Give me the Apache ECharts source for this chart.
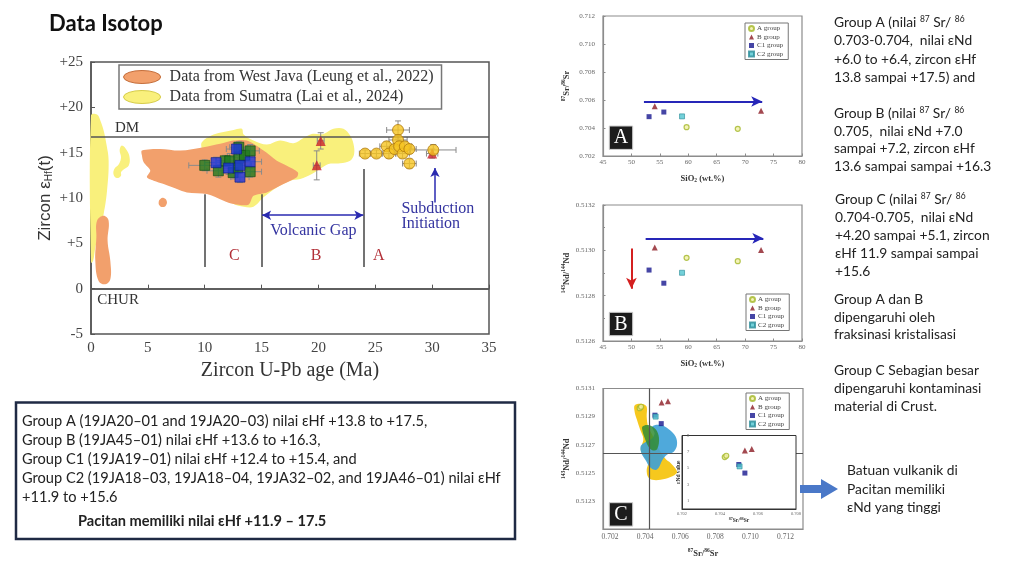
<!DOCTYPE html>
<html><head><meta charset="utf-8">
<script src="https://cdn.jsdelivr.net/npm/echarts@6/dist/echarts.min.js"></script>
<style>html,body{margin:0;padding:0;background:#fff}#c{width:1022px;height:569px}</style>
</head><body><div id="c"></div>
<script>
// ================= DATA =================
// Main chart: Zircon U-Pb age (Ma) vs Zircon eHf(t)
const mainXRange = [0, 35];
const mainYRange = [-5, 25];
const dmValue = 16.8;
const churValue = 0;
// [age, eHf, ageErr, eHfErr]
const zirconGroupA = [[24.1,14.9,0.5,0.4],[25.1,14.9,0.5,0.4],[26.0,15.7,0.6,0.5],[26.2,14.9,0.6,0.5],[27.0,17.5,1.0,1.0],[27.0,16.4,0.8,0.6],[26.7,15.4,0.6,0.5],[27.1,15.7,0.8,0.6],[27.4,14.9,0.6,0.5],[27.6,15.7,0.6,0.5],[28.0,15.4,0.6,0.5],[28.0,13.8,0.6,0.5],[30.1,15.3,2.0,0.6]];
const zirconGroupB = [[20.2,16.3,0.3,0.9],[19.85,13.6,0.3,1.6],[30.0,14.9,0.5,0.5]];
const zirconGroupC2 = [[10.0,13.6,1.4,0.6],[11.2,13.0,1.0,0.7],[11.8,14.1,0.8,0.6],[12.2,14.1,1.2,0.8],[12.5,12.8,1.0,0.7],[13.0,15.6,0.8,0.6],[13.0,14.5,1.0,0.8],[13.5,14.7,0.9,0.7],[14.0,15.2,0.8,0.7],[14.0,12.9,1.0,0.6],[12.9,13.3,0.8,0.6]];
const zirconGroupC1 = [[11.0,13.9,1.0,0.6],[12.1,13.3,0.9,0.7],[12.8,15.4,0.9,0.7],[13.1,13.6,1.0,0.8],[13.1,12.3,0.8,0.6],[14.0,14.0,1.0,0.7]];
// outlines of literature fields [age, eHf]
const sumatraStrip = [[0,19.1],[0.53,19.2],[0.82,18.55],[1.11,17.44],[1.35,15.97],[1.55,14.12],[1.41,10.8],[1.11,8.22],[0.82,6.75],[0.38,4.54],[0.18,3.06],[0,2.88]];
const sumatraHook = [[2.72,15.78],[3.16,15.23],[3.4,14.42],[3.31,13.57],[2.93,13.2],[2.64,12.83],[2.64,12.46],[2.28,12.2],[1.99,12.57],[2.05,13.2],[2.46,13.75],[2.64,14.49],[2.52,15.23]];
const sumatraMain = [[9.75,15.23],[9.75,16.15],[10.78,17.0],[12.54,17.51],[13.27,17.63],[13.42,17.0],[14.29,16.33],[15.47,15.89],[16.64,16.33],[17.81,16.04],[18.69,16.63],[19.42,17.07],[20.45,17.07],[21.32,17.63],[22.2,17.63],[22.79,16.89],[23.08,15.97],[23.14,14.86],[22.79,14.12],[21.91,13.83],[20.88,13.75],[20.15,13.2],[19.42,12.65],[18.4,12.09],[17.52,11.91],[16.34,11.17],[15.17,10.07],[14.29,9.03],[13.42,9.03],[12.54,9.33],[11.95,10.06],[10.19,11.91],[9.75,13.39]];
const westJavaMain = [[4.48,15.23],[6.09,15.41],[7.85,15.23],[9.9,15.6],[11.36,15.97],[12.54,16.33],[13.7,16.33],[15.17,15.23],[16.34,14.12],[17.22,13.57],[18.19,12.83],[18.1,12.28],[16.93,11.54],[15.47,10.62],[14.29,10.25],[13.85,9.26],[12.54,9.33],[11.66,9.7],[10.19,10.43],[8.44,10.62],[7.56,10.99],[6.39,11.54],[5.51,11.91],[4.92,12.28],[5.21,13.02],[4.63,13.94],[4.48,14.68]];
const westJavaStrip = [[0.53,7.49],[1.11,8.04],[1.55,7.49],[1.46,5.27],[1.7,3.06],[1.7,1.03],[1.26,0.48],[0.67,0.85],[0.38,3.06],[0.47,5.64]];
const westJavaDot = [[5.95,9.5],[6.1,9.9],[6.4,10.0],[6.65,9.7],[6.6,9.2],[6.3,9.0],[6.05,9.15]];
// group boundary lines [age, eHfBottom, eHfTop]
const boundaryLines = [[10,2.4,10.4],[15,2.4,10.4],[24,2.4,13.2]];
const volcanicGapArrow = [[15.05,8.1],[23.95,8.1]];
const subductionArrow = [[30.25,9.5],[30.25,13.3]];
const refLabelText = ['DM','CHUR'];
const refLabelPos = [[2.1,17.7],[0.55,-1.3]];
const groupLabelText = ['C','B','A'];
const groupLabelPos = [[12.6,3.6],[19.8,3.6],[25.3,3.6]];
const noteCenterText = ['Volcanic Gap'];
const noteCenterPos = [[19.55,6.4]];
const noteLeftText = ['Subduction','Initiation'];
const noteLeftPos = [[27.3,8.85],[27.3,7.1]];
const mainLegendNames = ['Data from West Java (Leung et al., 2022)','Data from Sumatra (Lai et al., 2024)'];

// Panels A/B: SiO2 (wt.%), 87Sr/86Sr, 143Nd/144Nd
const groupNames = ['A group','B group','C1 group','C2 group'];
const groupA_SiO2 = [59.7, 68.7];
const groupA_Sr   = [0.70406, 0.70394];
const groupA_Nd   = [0.512967, 0.512952];
const groupB_SiO2 = [54.1, 72.8];
const groupB_Sr   = [0.70555, 0.70524];
const groupB_Nd   = [0.513013, 0.513002];
const groupC1_SiO2 = [53.1, 55.7];
const groupC1_Sr   = [0.70481, 0.70514];
const groupC1_Nd   = [0.512913, 0.512855];
const groupC2_SiO2 = [58.9];
const groupC2_Sr   = [0.70483];
const groupC2_Nd   = [0.512901];
const trendArrowA = [[52.2,0.70589],[73.0,0.70589]];
const trendArrowB = [[52.5,0.513053],[73.2,0.513053]];
const downArrowB = [[50,0.513008],[50,0.512831]];

// Panel C: 87Sr/86Sr vs 143Nd/144Nd
const panelC_A  = [[0.70369,0.51296],[0.70377,0.51297]];
const panelC_B  = [[0.70494,0.51300],[0.70530,0.51301]];
const panelC_C1 = [[0.70456,0.51291],[0.70492,0.51285]];
const panelC_C2 = [[0.70460,0.51290]];
const panelC_SrRef = 0.70422;
const panelC_NdRef = 0.51264;
const fieldYellowC = [[0.70341,0.51298],[0.70385,0.51299],[0.70409,0.51297],[0.70409,0.51290],[0.70417,0.51283],[0.70441,0.51277],[0.70460,0.51271],[0.70488,0.51265],[0.70516,0.51260],[0.70545,0.51257],[0.70573,0.51253],[0.70582,0.51250],[0.70545,0.51247],[0.70488,0.51245],[0.70441,0.51245],[0.70417,0.51247],[0.70409,0.51252],[0.70417,0.51257],[0.70403,0.51260],[0.70375,0.51266],[0.70390,0.51274],[0.70371,0.51281],[0.70353,0.51288],[0.70341,0.51293]];
const fieldBlueC = [[0.70441,0.51283],[0.70488,0.51284],[0.70535,0.51281],[0.70573,0.51276],[0.70582,0.51270],[0.70563,0.51265],[0.70526,0.51263],[0.70498,0.51259],[0.70479,0.51254],[0.70460,0.51252],[0.70428,0.51254],[0.70403,0.51259],[0.70379,0.51264],[0.70375,0.51269],[0.70403,0.51272],[0.70435,0.51274],[0.70454,0.51278]];
const fieldGreenC = [[0.70385,0.51283],[0.70417,0.51284],[0.70460,0.51281],[0.70479,0.51275],[0.70469,0.51267],[0.70441,0.51266],[0.70417,0.51269],[0.70394,0.51276],[0.70385,0.51280]];
// Inset: 87Sr/86Sr vs eNd
const inset_A  = [[0.70425,6.36],[0.70433,6.52]];
const inset_B  = [[0.70531,7.17],[0.70567,7.34]];
const inset_C1 = [[0.70499,5.45],[0.70531,4.40]];
const inset_C2 = [[0.70503,5.22]];
const insetArrow = [[0.7060,7.46],[0.7060,4.40]];
const insetBaseline = 0.6;

// Slide texts
const titleText = 'Data Isotop';
const rightBlock1 = ['Group A (nilai {s|87} Sr/ {s|86}','0.703-0.704,  nilai εNd','+6.0 to +6.4, zircon εHf','13.8 sampai +17.5) and'];
const rightBlock2 = ['Group B (nilai {s|87} Sr/ {s|86}','0.705,  nilai εNd +7.0','sampai +7.2, zircon εHf','13.6 sampai sampai +16.3'];
const rightBlock3 = ['Group C (nilai {s|87} Sr/ {s|86}','0.704-0.705,  nilai εNd','+4.20 sampai +5.1, zircon','εHf 11.9 sampai sampai','+15.6'];
const rightBlock4 = ['Group A dan B','dipengaruhi oleh','fraksinasi kristalisasi'];
const rightBlock5 = ['Group C Sebagian besar','dipengaruhi kontaminasi','material di Crust.'];
const rightBlock6 = ['Batuan vulkanik di','Pacitan memiliki','εNd yang tinggi'];
const boxLines = ['Group A (19JA20–01 and 19JA20–03) nilai εHf +13.8 to +17.5,','Group B (19JA45–01) nilai εHf +13.6 to +16.3,','Group C1 (19JA19–01) nilai εHf +12.4 to +15.4, and','Group C2 (19JA18–03, 19JA18–04, 19JA32–02, and 19JA46–01) nilai εHf','+11.9 to +15.6'];
const boxBoldLine = 'Pacitan memiliki nilai εHf +11.9 – 17.5';

// ================= RENDER =================
const SERIF = "'Liberation Serif','DejaVu Serif',serif";
const SANS = "'Liberation Sans','DejaVu Sans',sans-serif";
const SLIDE = "Lato,'Open Sans',sans-serif";
const ELLIPSE = 'path://M0,7 A20,7 0 1,1 40,7 A20,7 0 1,1 0,7 Z';
const zip = (xs, ys) => xs.map((x, i) => [x, ys[i]]);

function polygonSeries(name, gi, pts, color, z, smooth) {
  return {type:'custom', name, xAxisIndex:gi, yAxisIndex:gi, z, silent:true, animation:false,
    itemStyle:{color}, data:[pts[0]],
    renderItem:(p, api) => ({type:'polygon', shape:{points: pts.map(q => api.coord(q)), smooth: smooth}, style:{fill: color}})};
}
function textSeries(gi, pos, texts, style, z) {
  return {type:'custom', xAxisIndex:gi, yAxisIndex:gi, z: z||9, silent:true, animation:false, data: pos,
    renderItem:(p, api) => { const c = api.coord([api.value(0), api.value(1)]);
      return {type:'text', x:c[0], y:c[1], style:Object.assign({text: texts[p.dataIndex], verticalAlign:'middle'}, style)}; }};
}
function errorSeries(gi, rows, z) {
  return {type:'custom', xAxisIndex:gi, yAxisIndex:gi, z, silent:true, animation:false, data: rows,
    renderItem:(p, api) => {
      const x = api.value(0), y = api.value(1), ex = api.value(2), ey = api.value(3);
      const l = api.coord([x-ex, y]), r = api.coord([x+ex, y]), t = api.coord([x, y+ey]), b = api.coord([x, y-ey]);
      const st = {stroke:'#8a8a8a', lineWidth:1};
      return {type:'group', children:[
        {type:'line', shape:{x1:l[0],y1:l[1],x2:r[0],y2:r[1]}, style:st},
        {type:'line', shape:{x1:l[0],y1:l[1]-3,x2:l[0],y2:l[1]+3}, style:st},
        {type:'line', shape:{x1:r[0],y1:r[1]-3,x2:r[0],y2:r[1]+3}, style:st},
        {type:'line', shape:{x1:t[0],y1:t[1],x2:b[0],y2:b[1]}, style:st},
        {type:'line', shape:{x1:t[0]-3,y1:t[1],x2:t[0]+3,y2:t[1]}, style:st},
        {type:'line', shape:{x1:b[0]-3,y1:b[1],x2:b[0]+3,y2:b[1]}, style:st}]};
    }};
}
function scatter(name, gi, data, symbol, size, itemStyle, z) {
  return {type:'scatter', name, xAxisIndex:gi, yAxisIndex:gi, data, symbol, symbolSize:size, itemStyle, z: z||5, silent:true, animation:false};
}
function seg(a, b, color, width, endSym, startSym) {
  return [{coord:a, symbol:startSym||'none', lineStyle:{color, width, type:'solid'}}, {coord:b, symbol:endSym||'none'}];
}
function lineHolder(gi, data, symbolSize, z) {
  return {type:'line', xAxisIndex:gi, yAxisIndex:gi, data:[], z: z||4, silent:true, animation:false,
    markLine:{silent:true, animation:false, symbolSize, label:{show:false}, emphasis:{disabled:true}, data}};
}

const subStyles = {
  'A group':  {symbol:'circle', size:5, itemStyle:{color:'#f3f0a8', borderColor:'#a2b628', borderWidth:1.2}},
  'B group':  {symbol:'triangle', size:6, itemStyle:{color:'#8c1c24'}},
  'C1 group': {symbol:'rect', size:5, itemStyle:{color:'#16168e'}},
  'C2 group': {symbol:'rect', size:5, itemStyle:{color:'#50c4cf', borderColor:'#2a8c98', borderWidth:0.8}}
};
function groupScatter(gi, name, data, z) { const s = subStyles[name]; return scatter(name, gi, data, s.symbol, s.size, s.itemStyle, z); }

const subLabel = {fontFamily:SERIF, fontSize:7, color:'#666'};
const subAxisLine = {show:true, lineStyle:{color:'#8c8c8c', width:1.2}};
const subTick = {show:true, inside:true, length:2.5, lineStyle:{color:'#8c8c8c'}};
const boldName = {b:{fontFamily:SERIF, fontWeight:'bold', fontSize:8.5, color:'#333'}, p:{fontFamily:SERIF, fontWeight:'bold', fontSize:5.5, color:'#333', padding:[0,0,5,0]}, sub:{fontFamily:SERIF, fontWeight:'bold', fontSize:5.5, color:'#333', padding:[5,0,0,0]}};

function subLegend(left, top) {
  return {data: groupNames, orient:'vertical', left, top, itemWidth:5, itemHeight:5, itemGap:1.5,
    padding:[2,5,2,3], borderColor:'#777', borderWidth:1, backgroundColor:'#fff', selectedMode:false,
    textStyle:{fontFamily:SERIF, fontSize:7, color:'#444', padding:[0,0,0,-2]}};
}

const option = {
  animation:false,
  backgroundColor:'#fff',
  grid:[
    {left:91, top:62, width:398, height:272, show:true, borderColor:'#555', borderWidth:1.5, backgroundColor:'#fff'},
    {left:603, top:16, width:199, height:140, show:true, borderColor:'#8c8c8c', borderWidth:1.2},
    {left:603, top:205, width:199, height:136, show:true, borderColor:'#8c8c8c', borderWidth:1.2},
    {left:603, top:388.5, width:200, height:140.5, show:true, borderColor:'#8c8c8c', borderWidth:1.2},
    {left:682, top:435.5, width:114, height:73.5, show:true, borderColor:'#333', borderWidth:1, backgroundColor:'#fff', z:6}
  ],
  legend:[
    {data: mainLegendNames.map((n, i) => ({name:n, icon:ELLIPSE, itemStyle:{borderColor: i===0 ? '#c46c38' : '#d6cc48', borderWidth:1}})),
      orient:'vertical', left:119, top:65, itemWidth:39, itemHeight:13, itemGap:4,
      padding:[4,8,4,4], borderColor:'#777', borderWidth:1.5, backgroundColor:'#fff', selectedMode:false,
      textStyle:{fontFamily:SERIF, fontSize:16, color:'#333', padding:[0,0,0,3]}},
    subLegend(745, 23), subLegend(746, 294), subLegend(746, 393)
  ],
  xAxis:[
    {gridIndex:0, type:'value', min:mainXRange[0], max:mainXRange[1], interval:5,
      axisLine:{show:true, lineStyle:{color:'#555', width:1.5}}, axisTick:{inside:true, length:4, lineStyle:{color:'#555'}},
      splitLine:{show:false}, axisLabel:{fontFamily:SERIF, fontSize:15, color:'#444', margin:7},
      name:'Zircon U-Pb age (Ma)', nameLocation:'middle', nameGap:27, nameTextStyle:{fontFamily:SERIF, fontSize:20, color:'#333'}},
    {gridIndex:1, type:'value', min:45, max:80, interval:5, axisLine:subAxisLine, axisTick:subTick, splitLine:{show:false},
      axisLabel:Object.assign({margin:3}, subLabel), name:'{b|SiO}{sub|2}{b| (wt.%)}', nameLocation:'middle', nameGap:17, nameTextStyle:{rich:boldName}},
    {gridIndex:2, type:'value', min:45, max:80, interval:5, axisLine:subAxisLine, axisTick:subTick, splitLine:{show:false},
      axisLabel:Object.assign({margin:3}, subLabel), name:'{b|SiO}{sub|2}{b| (wt.%)}', nameLocation:'middle', nameGap:17, nameTextStyle:{rich:boldName}},
    {gridIndex:3, type:'value', min:0.7016, max:0.7130, interval:0.0002, axisLine:subAxisLine, axisTick:{show:false}, splitLine:{show:false},
      axisLabel:Object.assign({margin:4, formatter:v => (Math.round(v*10000) % 20 === 0) ? v.toFixed(3) : ''}, subLabel, {fontSize:7.5}),
      name:'{p|87}{b|Sr/}{p|86}{b|Sr}', nameLocation:'middle', nameGap:19, nameTextStyle:{rich:boldName}},
    {gridIndex:4, type:'value', min:0.702, max:0.708, interval:0.002, z:10, axisLine:{show:true, lineStyle:{color:'#333', width:1}}, axisTick:{show:false}, splitLine:{show:false},
      axisLabel:{fontFamily:SERIF, fontSize:4.5, color:'#666', margin:2, formatter:v => v.toFixed(3)},
      name:'{p|87}{b|Sr/}{p|86}{b|Sr}', nameLocation:'middle', nameGap:8,
      nameTextStyle:{rich:{b:{fontFamily:SERIF, fontWeight:'bold', fontSize:5.5, color:'#333'}, p:{fontFamily:SERIF, fontWeight:'bold', fontSize:4, color:'#333', padding:[0,0,3,0]}}}}
  ],
  yAxis:[
    {gridIndex:0, type:'value', min:mainYRange[0], max:mainYRange[1], interval:5,
      axisLine:{show:true, lineStyle:{color:'#555', width:1.5}}, axisTick:{inside:true, length:4, lineStyle:{color:'#555'}},
      splitLine:{show:false}, axisLabel:{fontFamily:SERIF, fontSize:15, color:'#444', margin:8, formatter:v => v > 0 ? '+' + v : String(v)},
      name:'Zircon ε{s|Hf}(t)', nameLocation:'middle', nameGap:37,
      nameTextStyle:{fontFamily:SANS, fontSize:17, color:'#333', rich:{s:{fontFamily:SANS, fontSize:10, color:'#333', padding:[7,0,0,0]}}}},
    {gridIndex:1, type:'value', min:0.702, max:0.712, interval:0.002, axisLine:subAxisLine, axisTick:subTick, splitLine:{show:false},
      axisLabel:Object.assign({margin:8, formatter:v => v.toFixed(3)}, subLabel),
      name:'{p|87}{b|Sr/}{p|86}{b|Sr}', nameLocation:'middle', nameGap:31, nameTextStyle:{rich:boldName}},
    {gridIndex:2, type:'value', min:0.5126, max:0.5132, interval:0.0002, axisLine:subAxisLine, axisTick:subTick, minorTick:{show:true, splitNumber:2, length:2, lineStyle:{color:'#8c8c8c'}}, splitLine:{show:false},
      axisLabel:Object.assign({margin:8, formatter:v => v.toFixed(4)}, subLabel),
      name:'{p|143}{b|Nd/}{p|144}{b|Nd}', nameLocation:'middle', nameGap:31, nameTextStyle:{rich:boldName}},
    {gridIndex:3, type:'value', min:0.5121, max:0.5131, interval:0.0001, axisLine:subAxisLine, axisTick:{show:false}, splitLine:{show:false},
      axisLabel:Object.assign({margin:8, formatter:v => { const k = Math.round(v*10000); return (k % 2 === 1 && k !== 5121) ? v.toFixed(4) : ''; }}, subLabel),
      name:'{p|143}{b|Nd/}{p|144}{b|Nd}', nameLocation:'middle', nameGap:31, nameTextStyle:{rich:boldName}},
    {gridIndex:4, type:'value', min:0, max:9, interval:1, z:10, axisLine:{show:true, lineStyle:{color:'#333', width:1}}, axisTick:{show:false}, splitLine:{show:false},
      axisLabel:{inside:true, fontFamily:SERIF, fontSize:4.5, color:'#666', margin:5, formatter:v => (v % 2 === 1) ? String(v) : ''},
      name:'εNd value', nameLocation:'middle', nameGap:0, nameTextStyle:{fontFamily:SERIF, fontWeight:'bold', fontSize:5.5, color:'#333'}}
  ],
  series:[
    // ---- main chart fields ----
    polygonSeries(mainLegendNames[1], 0, sumatraStrip, '#f9f07c', 1, 0.4),
    polygonSeries(mainLegendNames[1], 0, sumatraHook, '#f9f07c', 1, 0.4),
    polygonSeries(mainLegendNames[1], 0, sumatraMain, '#f9f07c', 1, 0.35),
    polygonSeries(mainLegendNames[0], 0, westJavaMain, '#f2a06c', 2, 0.3),
    polygonSeries(mainLegendNames[0], 0, westJavaStrip, '#f2a06c', 2, 0.4),
    polygonSeries(mainLegendNames[0], 0, westJavaDot, '#f2a06c', 2, 0.5),
    lineHolder(0, [
      seg([mainXRange[0], dmValue], [mainXRange[1], dmValue], '#555', 1.5),
      seg([mainXRange[0], churValue], [mainXRange[1], churValue], '#555', 1.5),
      ...boundaryLines.map(r => seg([r[0], r[1]], [r[0], r[2]], '#444', 1.5)),
      seg(volcanicGapArrow[0], volcanicGapArrow[1], '#2a2ab0', 1.5, 'arrow', 'arrow'),
      seg(subductionArrow[0], subductionArrow[1], '#2a2ab0', 1.5, 'arrow')
    ], [7, 9], 3),
    errorSeries(0, zirconGroupC2.concat(zirconGroupC1, zirconGroupB, zirconGroupA), 4),
    scatter('Zircon C2', 0, zirconGroupC2.map(r => [r[0], r[1]]), 'rect', 10, {color:'#1f7a22', borderColor:'#0d4a10', borderWidth:0.8}, 5),
    scatter('Zircon C1', 0, zirconGroupC1.map(r => [r[0], r[1]]), 'rect', 10, {color:'#1c34e0', borderColor:'#0c1a80', borderWidth:0.8}, 6),
    scatter('Zircon B', 0, zirconGroupB.map(r => [r[0], r[1]]), 'triangle', 10, {color:'#c8202c'}, 6),
    scatter('Zircon A', 0, zirconGroupA.map(r => [r[0], r[1]]), 'circle', 11, {color:'#f6c420', borderColor:'#b07a10', borderWidth:1}, 7),
    textSeries(0, refLabelPos, refLabelText, {fontFamily:SERIF, fontSize:15, fill:'#333', align:'left'}),
    textSeries(0, groupLabelPos, groupLabelText, {fontFamily:SERIF, fontSize:16, fill:'#b23038', align:'center'}),
    textSeries(0, noteCenterPos, noteCenterText, {fontFamily:SERIF, fontSize:16, fill:'#3434a0', align:'center'}),
    textSeries(0, noteLeftPos, noteLeftText, {fontFamily:SERIF, fontSize:16, fill:'#3434a0', align:'left'}),
    // ---- panel A ----
    lineHolder(1, [seg(trendArrowA[0], trendArrowA[1], '#2626b8', 2, 'arrow')], [8, 11], 3),
    groupScatter(1, 'A group', zip(groupA_SiO2, groupA_Sr)),
    groupScatter(1, 'B group', zip(groupB_SiO2, groupB_Sr)),
    groupScatter(1, 'C1 group', zip(groupC1_SiO2, groupC1_Sr)),
    groupScatter(1, 'C2 group', zip(groupC2_SiO2, groupC2_Sr)),
    // ---- panel B ----
    lineHolder(2, [seg(trendArrowB[0], trendArrowB[1], '#2626b8', 2, 'arrow'), seg(downArrowB[0], downArrowB[1], '#d42020', 2, 'arrow')], [8, 11], 3),
    groupScatter(2, 'A group', zip(groupA_SiO2, groupA_Nd)),
    groupScatter(2, 'B group', zip(groupB_SiO2, groupB_Nd)),
    groupScatter(2, 'C1 group', zip(groupC1_SiO2, groupC1_Nd)),
    groupScatter(2, 'C2 group', zip(groupC2_SiO2, groupC2_Nd)),
    // ---- panel C ----
    polygonSeries('Field Y', 3, fieldYellowC, '#f6c81e', 1, 0.35),
    polygonSeries('Field B', 3, fieldBlueC, 'rgba(60,160,215,0.9)', 1.2, 0.35),
    polygonSeries('Field G', 3, fieldGreenC, 'rgba(50,140,50,0.85)', 1.4, 0.35),
    lineHolder(3, [
      seg([panelC_SrRef, 0.5121], [panelC_SrRef, 0.5131], '#555', 1.2),
      seg([0.7016, panelC_NdRef], [0.7130, panelC_NdRef], '#555', 1.2)
    ], [6, 8], 2),
    groupScatter(3, 'A group', panelC_A),
    groupScatter(3, 'B group', panelC_B),
    groupScatter(3, 'C1 group', panelC_C1),
    groupScatter(3, 'C2 group', panelC_C2),
    // ---- inset ----
    lineHolder(4, [
      seg([0.702, insetBaseline], [0.708, insetBaseline], '#333', 1),
      seg(insetArrow[0], insetArrow[1], '#d42020', 1.8, 'arrow')
    ], [6, 8], 10),
    groupScatter(4, 'A group', inset_A, 11),
    groupScatter(4, 'B group', inset_B, 11),
    groupScatter(4, 'C1 group', inset_C1, 11),
    groupScatter(4, 'C2 group', inset_C2, 11)
  ],
  graphic: []
};

// ---- slide text and decorations ----
const G = option.graphic;
function T(x, y, text, st) {
  G.push({type:'text', x, y, silent:true, z:20, style:Object.assign({text, fill:'#222', fontFamily:SLIDE, fontSize:13.8, align:'left', verticalAlign:'middle',
    rich:{s:{fontFamily:SLIDE, fontSize:8.5, fill:'#222', padding:[0,0,7,0]}}}, st||{})});
}
T(49, 24, titleText, {fontSize:22, fontWeight:'bold', fill:'#111'});
function block(x, y0, lines, step) { lines.forEach((l, i) => T(x, y0 + i*step, l)); }
block(834, 22.7, rightBlock1, 18.2);
block(834, 113.3, rightBlock2, 17.8);
block(835, 200, rightBlock3, 17.9);
block(834, 299.3, rightBlock4, 17.8);
block(834, 370.7, rightBlock5, 18);
block(847, 471, rightBlock6, 18.3);
// blue slide arrow
G.push({type:'polygon', silent:true, z:20, shape:{points:[[800,485],[821,485],[821,479],[838,489],[821,499],[821,493],[800,493]]}, style:{fill:'#4a78c8'}});
// bottom-left summary box
G.push({type:'rect', silent:true, z:19, shape:{x:16, y:402.5, width:499, height:136.5}, style:{fill:'#fff', stroke:'#1f2a44', lineWidth:2.5}});
boxLines.forEach((l, i) => T(22, [421, 440.5, 459.5, 478.3, 497][i], l, {fontSize:14.6}));
T(78, 521.7, boxBoldLine, {fontSize:14.6, fontWeight:'bold'});
// panel tag boxes
[['A', 126], ['B', 312.3], ['C', 502.7]].forEach(([t, y]) => {
  G.push({type:'rect', silent:true, z:20, shape:{x:609.3, y, width:23.4, height:23.4}, style:{fill:'#1c1c1c', stroke:'#cfcfcf', lineWidth:1}});
  G.push({type:'text', silent:true, z:21, x:621, y:y + 12, style:{text:t, fill:'#fff', fontFamily:SERIF, fontSize:20, align:'center', verticalAlign:'middle'}});
});

const chart = echarts.init(document.getElementById('c'), null, {renderer:'canvas', width:1022, height:569});
chart.setOption(option);
</script></body></html>
